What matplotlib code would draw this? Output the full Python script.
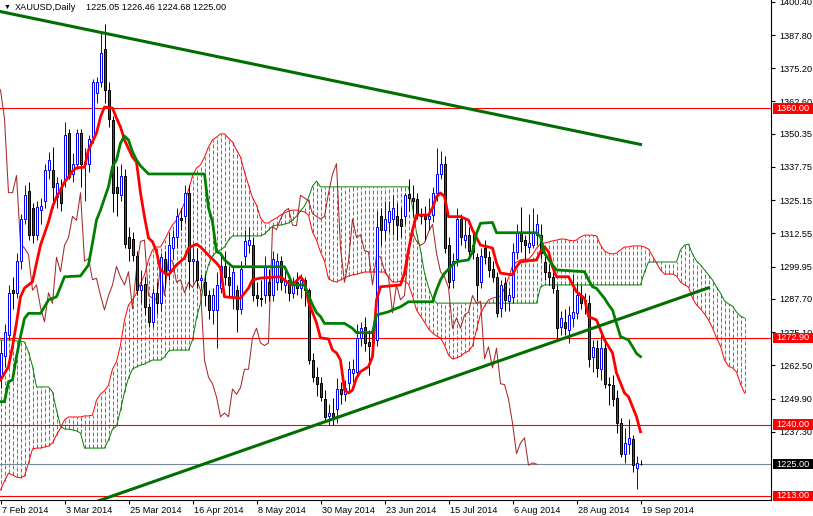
import numpy as np
import pandas as pd
import matplotlib
matplotlib.use("Agg")
import matplotlib.pyplot as plt
from matplotlib.patches import Rectangle
from matplotlib.transforms import blended_transform_factory, ScaledTranslation

# daily bars, XAUUSD
dates = pd.bdate_range("2014-02-07", periods=161)

opens = [1258, 1266, 1274, 1291, 1290, 1302, 1318, 1328.5, 1322, 1312,
         1321.5, 1325, 1336.5, 1336.5, 1326.5, 1330, 1333, 1350.5, 1335, 1339,
         1350.5, 1339, 1339, 1349, 1366, 1370, 1382.5, 1367, 1355.5, 1330,
         1327, 1334.5, 1311, 1310.5, 1304, 1291, 1293.5, 1284.5, 1279, 1290,
         1286, 1303, 1298.5, 1307, 1311, 1318.5, 1319, 1328, 1302, 1302,
         1295, 1294, 1289, 1283.5, 1283.5, 1292, 1300, 1296, 1288, 1291,
         1284, 1304, 1308, 1308, 1289, 1288, 1289, 1294, 1289, 1294,
         1302, 1293, 1295, 1290, 1294, 1292, 1295, 1291, 1264.5, 1258,
         1255.8, 1249.7, 1243.3, 1244.4, 1246, 1253.5, 1251.5, 1255.8, 1259.6, 1260,
         1273, 1277, 1271.4, 1275, 1272, 1319, 1314, 1317, 1318, 1319,
         1318, 1319, 1327.5, 1326, 1325.5, 1320, 1319, 1318, 1319.5, 1327.8,
         1335, 1339, 1308, 1295, 1303, 1318, 1310, 1312, 1308, 1303.6,
         1294, 1307, 1303.6, 1299, 1296, 1284.3, 1293.7, 1287, 1288.5, 1305.6,
         1312.7, 1310, 1307.4, 1308, 1312, 1312, 1301.7, 1298, 1296, 1291,
         1277, 1279, 1276, 1280.5, 1282.4, 1289, 1287.2, 1286, 1265.8, 1269,
         1261, 1269, 1255.4, 1255, 1250, 1240.6, 1229, 1232.6, 1234.5, 1223.5,
         1225.05]
highs = [1272, 1278, 1293, 1296, 1305, 1320, 1331, 1332, 1324, 1325,
         1326, 1339, 1343.5, 1345.5, 1334, 1333, 1355, 1352, 1343, 1352,
         1352, 1345, 1350, 1371, 1372, 1388.5, 1392, 1370, 1357, 1338,
         1339, 1337, 1315, 1313, 1306, 1298.5, 1296, 1286, 1292, 1294,
         1305, 1306, 1313, 1314, 1322, 1322, 1331, 1331, 1307, 1307,
         1297, 1297, 1291, 1292, 1298, 1304, 1306, 1300, 1300, 1293,
         1302, 1314, 1315, 1311, 1294, 1295, 1304, 1299, 1306, 1305,
         1304, 1300, 1297, 1296, 1298, 1297, 1296, 1292, 1267, 1262,
         1258, 1253, 1248, 1250, 1257.7, 1256, 1257, 1264, 1265, 1278,
         1279, 1281, 1276, 1278, 1321, 1322, 1325, 1325, 1327, 1324,
         1322, 1328, 1333, 1331, 1328, 1322, 1323, 1326, 1330, 1345,
         1344, 1342, 1311, 1305, 1322, 1320, 1318, 1315, 1313, 1305,
         1307, 1310, 1306, 1302, 1298, 1295, 1296, 1292, 1309, 1316,
         1322.5, 1312, 1320, 1322, 1320, 1316, 1304, 1301, 1298, 1293,
         1283, 1284, 1285, 1297, 1294, 1293, 1290, 1289, 1272, 1272,
         1274, 1273, 1258, 1259, 1253, 1242.5, 1238.7, 1242, 1236, 1228,
         1226.46]
lows = [1254, 1262, 1272, 1284, 1288, 1299, 1316, 1310, 1309, 1310,
        1316, 1322, 1333, 1322, 1322, 1321, 1330, 1333, 1332, 1337,
        1330, 1325, 1336, 1347, 1362, 1368, 1362, 1353, 1320.5, 1319,
        1325, 1307, 1302, 1302, 1289, 1286, 1282, 1277, 1277, 1282,
        1283, 1292, 1295, 1303, 1307, 1314, 1317, 1292, 1294, 1292,
        1292, 1285, 1280, 1278, 1269, 1290, 1293, 1288, 1284, 1275,
        1282, 1300, 1305, 1287, 1285, 1285, 1286, 1287, 1287, 1291,
        1291, 1290, 1287, 1288, 1289, 1288, 1285, 1263, 1256, 1251,
        1249, 1241, 1240, 1240, 1240.8, 1248, 1249, 1252, 1256, 1258,
        1270, 1268, 1259, 1266, 1270, 1308, 1310, 1313, 1312, 1310,
        1311, 1316, 1321, 1319, 1318, 1316, 1310, 1314, 1317, 1325,
        1333, 1305, 1292, 1292, 1300, 1308, 1307, 1303, 1303, 1287,
        1292, 1301, 1296, 1294, 1281, 1281, 1283, 1283, 1286, 1303,
        1305.5, 1302, 1305, 1307, 1308, 1303, 1295, 1293, 1290, 1273,
        1274, 1274, 1271, 1277, 1280, 1284, 1282, 1262, 1260, 1258,
        1257, 1254, 1247.5, 1247, 1237, 1227.7, 1225.4, 1229, 1222, 1215.6,
        1224.68]
closes = [1267, 1275, 1290, 1290, 1302, 1318, 1327, 1312, 1312, 1322.5,
          1323, 1336.5, 1340.5, 1330, 1331.5, 1324, 1350, 1334, 1339, 1350.5,
          1339, 1339.5, 1348.5, 1370, 1370, 1381, 1367, 1356, 1328, 1328,
          1334.5, 1308.5, 1307, 1304.5, 1291, 1293, 1284.5, 1279, 1290, 1286,
          1303.5, 1298, 1308, 1311, 1319, 1317.5, 1328, 1302, 1303, 1295,
          1295.5, 1289, 1283.5, 1289, 1293, 1300, 1296, 1293, 1298, 1284,
          1299, 1309.5, 1310, 1289, 1288, 1287.5, 1300, 1289, 1303, 1302,
          1294, 1295, 1290, 1294, 1292, 1295, 1291, 1264.5, 1258, 1255.5,
          1250.5, 1243, 1244.4, 1243, 1253.5, 1251.5, 1254, 1261, 1261, 1273,
          1276.6, 1271, 1270, 1271, 1315, 1314, 1318, 1321, 1322, 1315.7,
          1315.5, 1327, 1326, 1325, 1320, 1319, 1318, 1319, 1327.8, 1335,
          1339, 1307, 1294, 1302, 1318, 1311, 1312, 1306, 1305.5, 1293,
          1304, 1303.6, 1298.5, 1296, 1282.4, 1293, 1287.3, 1289, 1305.6, 1312.7,
          1309.6, 1308, 1309, 1313, 1316, 1305, 1298, 1296, 1292, 1276.6,
          1280.5, 1276.6, 1281.6, 1282.7, 1289, 1286, 1286.8, 1265, 1269.5, 1261.5,
          1269, 1255.5, 1255.2, 1249.7, 1240.6, 1229, 1233, 1235, 1224.6, 1225.5,
          1225.00]

# ichimoku lines (bar index, price)
tenkan_idx = [0, 2, 3, 4, 5, 6, 8, 9, 10, 12, 13, 14, 15, 16, 17, 18, 19, 21, 22, 24,
              25, 26, 28, 29, 30, 31, 33, 34, 35, 36, 37, 38, 39, 40, 41, 42, 44, 46, 47, 49,
              50, 52, 54, 55, 56, 60, 62, 63, 65, 70, 72, 73, 75, 76, 77, 79, 80, 82, 83, 84,
              85, 86, 87, 88, 89, 90, 92, 93, 94, 95, 100, 101, 102, 103, 104, 107, 108, 109, 110, 111,
              112, 115, 117, 118, 120, 123, 124, 125, 128, 129, 130, 134, 135, 136, 137, 138, 139, 142, 144, 145,
              146, 147, 149, 150, 151, 153, 154, 156, 157, 158, 159, 160]
tenkan_val = [1256.9, 1262.0, 1269.6, 1278.6, 1288.5, 1291.8, 1294.2, 1301.3, 1308.1, 1316.9,
              1322.6, 1326.4, 1329.0, 1332.0, 1333.9, 1336.2, 1337.4, 1337.7, 1344.2, 1350.6,
              1356.7, 1360.5, 1360.1, 1356.3, 1352.9, 1348.0, 1341.5, 1339.6, 1327.9, 1318.8,
              1310.8, 1309.4, 1305.6, 1298.7, 1297.5, 1296.8, 1300.6, 1303.2, 1307.0, 1308.5,
              1307.4, 1304.3, 1301.3, 1299.4, 1288.5, 1288.0, 1291.8, 1294.9, 1295.6, 1296.1,
              1293.7, 1293.0, 1296.1, 1294.2, 1286.6, 1278.6, 1272.9, 1272.5, 1268.3, 1267.2,
              1264.5, 1253.1, 1252.0, 1253.1, 1257.7, 1260.1, 1262.0, 1265.8, 1287.3, 1292.3,
              1293.0, 1297.5, 1306.2, 1313.8, 1319.5, 1319.5, 1322.2, 1326.5, 1327.9, 1326.5,
              1318.9, 1318.9, 1317.6, 1313.8, 1308.1, 1307.0, 1301.3, 1297.5, 1296.8, 1299.9,
              1301.8, 1302.5, 1305.6, 1307.5, 1305.6, 1299.9, 1296.1, 1296.1, 1290.4, 1289.2,
              1287.9, 1281.0, 1279.7, 1275.9, 1272.1, 1267.2, 1259.6, 1252.0, 1250.6, 1246.8,
              1243.0, 1237.3]
kijun_idx = [0, 1, 2, 3, 4, 5, 6, 7, 10, 11, 12, 14, 15, 16, 20, 22, 23, 24, 25, 27,
             28, 29, 30, 31, 32, 33, 34, 35, 37, 51, 52, 53, 54, 55, 56, 58, 71, 72, 73, 76,
             77, 78, 79, 80, 81, 86, 88, 89, 93, 94, 97, 98, 100, 102, 108, 109, 110, 111, 113, 114,
             117, 118, 119, 120, 123, 124, 134, 135, 136, 138, 139, 146, 147, 148, 149, 151, 152, 153, 154, 155,
             157, 158, 159, 160]
kijun_val = [1248.7, 1248.7, 1256.3, 1256.9, 1265.8, 1273.4, 1280.3, 1282.2, 1282.2, 1284.7,
             1287.3, 1288.5, 1292.3, 1296.1, 1296.4, 1300.6, 1308.9, 1317.6, 1321.4, 1330.3,
             1337.9, 1340.4, 1346.8, 1349.5, 1348.0, 1343.5, 1340.4, 1338.2, 1335.1, 1335.1,
             1322.2, 1316.9, 1305.6, 1305.0, 1302.5, 1299.9, 1299.9, 1296.8, 1293.0, 1293.0,
             1289.0, 1285.5, 1282.5, 1281.0, 1278.4, 1278.4, 1276.5, 1274.9, 1274.9, 1281.6,
             1282.8, 1283.5, 1284.7, 1286.6, 1286.6, 1291.1, 1294.9, 1297.4, 1300.6, 1301.8,
             1302.5, 1305.6, 1312.6, 1316.4, 1316.7, 1312.8, 1312.8, 1311.3, 1305.0, 1300.6,
             1298.7, 1298.0, 1294.9, 1292.3, 1291.7, 1287.9, 1285.5, 1283.5, 1278.4, 1273.4,
             1272.1, 1269.6, 1267.0, 1265.8]

# senkou spans, one value per bar incl. 26 bars ahead
span_a = [1215.2, 1218.6, 1221.6, 1220.9, 1220.1, 1219.8, 1220.5, 1225.4, 1230.8, 1231.1,
          1231.1, 1231.5, 1231.9, 1233.0, 1236.1, 1238.7, 1241.8, 1242.9, 1242.9, 1242.9,
          1242.9, 1243.3, 1243.3, 1243.6, 1249.3, 1251.6, 1252.8, 1255.0, 1261.1, 1263.8,
          1270.2, 1279.7, 1285.4, 1287.3, 1289.9, 1293.7, 1296.8, 1302.5, 1306.3, 1307.4,
          1307.4, 1310.0, 1313.1, 1315.7, 1317.6, 1320.7, 1324.1, 1329.0, 1334.3, 1337.4,
          1338.5, 1341.5, 1345.3, 1348.0, 1349.1, 1350.3, 1350.3, 1348.7, 1347.2, 1344.2,
          1341.5, 1335.8, 1330.9, 1326.0, 1323.3, 1318.4, 1316.5, 1316.5, 1317.6, 1318.4,
          1319.5, 1320.3, 1321.0, 1321.4, 1321.4, 1321.0, 1320.7, 1319.5, 1313.1, 1310.0,
          1305.5, 1302.1, 1295.3, 1294.5, 1294.1, 1294.9, 1295.6, 1296.4, 1296.8, 1297.1,
          1297.5, 1297.9, 1297.9, 1297.9, 1297.9, 1297.9, 1297.9, 1296.0, 1294.1, 1294.1,
          1294.5, 1294.5, 1293.3, 1288.8, 1283.5, 1281.2, 1278.9, 1276.3, 1274.8, 1273.6,
          1272.9, 1270.2, 1266.4, 1264.9, 1265.3, 1266.0, 1267.2, 1267.9, 1269.8, 1275.9,
          1282.0, 1285.0, 1287.3, 1288.0, 1288.4, 1288.8, 1291.8, 1295.6, 1300.2, 1301.7,
          1302.5, 1302.8, 1302.8, 1304.4, 1307.0, 1308.5, 1308.9, 1309.3, 1309.7, 1310.0,
          1310.4, 1310.4, 1310.0, 1309.7, 1310.0, 1311.2, 1311.9, 1311.9, 1311.9, 1311.6,
          1308.1, 1305.9, 1305.1, 1304.7, 1305.1, 1306.3, 1307.4, 1307.4, 1307.8, 1307.8,
          1307.8, 1307.4, 1306.6, 1304.0, 1301.3, 1298.7, 1297.1, 1297.1, 1297.1, 1296.4,
          1294.1, 1293.0, 1292.2, 1288.0, 1285.4, 1283.9, 1282.0, 1279.7, 1276.7, 1272.9,
          1269.8, 1264.5, 1262.2, 1261.5, 1260.0, 1255.4, 1252.0]
span_b = [1272.1, 1272.1, 1272.1, 1272.1, 1271.7, 1271.7, 1271.3, 1267.5, 1262.2, 1254.3,
          1254.3, 1254.3, 1254.3, 1252.4, 1245.5, 1239.5, 1238.3, 1238.3, 1238.0, 1237.6,
          1236.8, 1231.1, 1231.1, 1231.1, 1231.1, 1231.1, 1231.1, 1234.2, 1238.3, 1239.5,
          1245.5, 1252.4, 1257.7, 1261.1, 1261.9, 1262.6, 1263.0, 1263.8, 1264.5, 1264.5,
          1264.5, 1265.6, 1267.9, 1268.3, 1268.3, 1268.3, 1268.3, 1268.3, 1272.1, 1280.4,
          1286.1, 1294.9, 1300.6, 1304.0, 1305.5, 1306.3, 1307.4, 1310.0, 1311.6, 1311.6,
          1311.6, 1311.6, 1311.6, 1311.6, 1311.6, 1311.6, 1312.3, 1313.8, 1315.3, 1315.7,
          1315.7, 1316.1, 1316.5, 1317.6, 1319.1, 1321.0, 1322.9, 1326.0, 1330.5, 1332.4,
          1330.2, 1330.2, 1330.2, 1330.2, 1330.2, 1330.2, 1330.2, 1330.2, 1330.2, 1330.2,
          1330.2, 1330.2, 1330.2, 1330.2, 1330.2, 1330.2, 1330.2, 1330.2, 1330.2, 1330.2,
          1330.2, 1330.2, 1330.2, 1322.6, 1312.7, 1306.3, 1297.5, 1292.2, 1288.0, 1286.1,
          1286.1, 1286.1, 1286.1, 1286.1, 1286.1, 1286.1, 1286.1, 1286.1, 1286.1, 1286.1,
          1286.1, 1286.1, 1286.1, 1286.1, 1286.1, 1286.1, 1286.1, 1286.1, 1286.1, 1286.1,
          1286.1, 1286.1, 1286.1, 1286.1, 1286.1, 1292.2, 1293.0, 1293.0, 1293.0, 1293.0,
          1293.0, 1293.0, 1293.0, 1293.0, 1293.0, 1293.0, 1293.0, 1293.0, 1293.0, 1293.0,
          1293.0, 1293.0, 1293.0, 1293.0, 1293.0, 1293.0, 1293.0, 1293.0, 1293.0, 1293.0,
          1293.0, 1297.9, 1301.7, 1301.7, 1301.7, 1301.7, 1301.7, 1301.7, 1301.7, 1301.7,
          1306.3, 1308.1, 1308.5, 1304.7, 1302.1, 1300.6, 1298.7, 1296.8, 1294.9, 1292.2,
          1289.9, 1286.9, 1285.8, 1285.0, 1282.7, 1281.2, 1280.4]
chikou_shift = 26

# drawn objects
trend_down_idx = [0, 160]
trend_down_val = [1396.7, 1346.3]
trend_up_idx = [20, 177]
trend_up_val = [1208.7, 1291.9]
red_levels = [1360.00, 1272.90, 1240.00, 1213.00]
bid_price = 1225.00

price_ticks = [1400.40, 1387.80, 1375.20, 1362.60, 1350.35, 1337.75, 1325.15,
               1312.55, 1299.95, 1287.70, 1275.10, 1262.50, 1249.90, 1237.30]
date_ticks = [0, 16, 32, 48, 64, 80, 96, 112, 128, 144, 160]
symbol_text = "XAUUSD,Daily"
ohlc_text = "1225.05 1226.46 1224.68 1225.00"

PX = 0.72  # one pixel in points at 100 dpi


def draw_candles(ax):
    x = np.arange(len(closes))
    o = np.array(opens)
    h = np.array(highs)
    l = np.array(lows)
    c = np.array(closes)
    up = c > o
    dn = ~up
    ax.vlines(x[up], l[up], h[up], color="#0000ff", lw=PX, zorder=3, snap=True)
    ax.vlines(x[dn], l[dn], h[dn], color="black", lw=PX, zorder=3, snap=True)
    ax.bar(x[up], c[up] - o[up], bottom=o[up], width=0.5, color="white",
           edgecolor="#0000ff", linewidth=PX, zorder=4)
    ax.bar(x[dn], c[dn] - o[dn], bottom=o[dn], width=0.5, color="#ff0000",
           edgecolor="black", linewidth=PX, zorder=4)


def draw_cloud(ax):
    xs = np.arange(len(span_a))
    a = np.array(span_a)
    b = np.array(span_b)
    bear = b > a
    ax.vlines(xs[bear], a[bear], b[bear], colors="#ff4500", lw=PX,
              linestyles=(0, (4, 2)), zorder=1, snap=True)
    ax.vlines(xs[~bear], b[~bear], a[~bear], colors="#1faa50", lw=PX,
              linestyles=(0, (4, 2)), zorder=1, snap=True)
    ax.plot(xs, a, color="#ff0000", lw=0.7, zorder=2)
    ax.plot(xs, b, color="#008000", lw=0.7, zorder=2)


def price_box(ax, y, text, face):
    tr = blended_transform_factory(ax.transAxes, ax.transData)
    w = 40 / 771
    h = 10.5 / 2.636
    ax.add_patch(Rectangle((1 + 2 / 771, y - h / 2), w, h, transform=tr,
                           facecolor=face, edgecolor="none", clip_on=False, zorder=10))
    ax.text(1 + 5 / 771, y, text, transform=tr, color="white", fontsize=6.6,
            va="center", ha="left", clip_on=False, zorder=11)


def main():
    plt.rcParams["font.family"] = ["Liberation Sans", "DejaVu Sans"]
    fig = plt.figure(figsize=(8.13, 5.16), dpi=100)
    ax = fig.add_axes([0, 16 / 516, 771 / 813, 500 / 516])
    # bars sit on pixel centres: 4 px per bar
    ax.set_xlim(-0.125, 192.625)
    ax.set_ylim(1211.4, 1401.1)

    draw_cloud(ax)

    for lv in red_levels:
        ax.axhline(lv, color="#ff0000", lw=0.8, zorder=2)
    ax.axhline(bid_price, color="#778899", lw=0.8, zorder=2)

    c = np.array(closes)
    xc = np.arange(len(c))
    ax.plot(xc[chikou_shift:] - chikou_shift, c[chikou_shift:], color="#a52a2a", lw=0.75, zorder=2)

    draw_candles(ax)

    ax.plot(tenkan_idx, tenkan_val, color="#ff0000", lw=2.0, zorder=5)
    ax.plot(kijun_idx, kijun_val, color="#008000", lw=2.0, zorder=5)

    ax.plot(trend_down_idx, trend_down_val, color="#006e00", lw=2.2, zorder=6)
    ax.plot(trend_up_idx, trend_up_val, color="#006e00", lw=2.2, zorder=6)

    # axes look
    for side in ["top", "left"]:
        ax.spines[side].set_visible(False)
    for side in ["right", "bottom"]:
        ax.spines[side].set_linewidth(0.8)
    ax.yaxis.tick_right()
    ax.set_yticks(price_ticks)
    ax.set_yticklabels(["%.2f" % v for v in price_ticks])
    ax.tick_params(axis="y", length=3, width=0.8, pad=3, labelsize=6.6)
    ax.set_xticks(date_ticks)
    ax.set_xticklabels(["%d %s" % (dates[i].day, dates[i].strftime("%b %Y")) for i in date_ticks])
    ax.tick_params(axis="x", length=3, width=0.8, pad=1, labelsize=6.6)
    shift = ScaledTranslation(2 / 100, 0, fig.dpi_scale_trans)
    for lbl in ax.get_xticklabels():
        lbl.set_horizontalalignment("left")
        lbl.set_transform(lbl.get_transform() + shift)

    for lv in red_levels:
        price_box(ax, lv, "%.2f" % lv, "#ff0000")
    price_box(ax, bid_price, "%.2f" % bid_price, "black")

    fig.text(4 / 813, 1 - 7 / 516, "\u25bc", fontsize=5, va="center", ha="left")
    fig.text(15 / 813, 1 - 7 / 516, symbol_text, fontsize=6.6, va="center", ha="left")
    fig.text(86 / 813, 1 - 7 / 516, ohlc_text, fontsize=6.6, va="center", ha="left")

    fig.savefig("out.png", dpi=100, facecolor="white")


if __name__ == '__main__':
    main()
